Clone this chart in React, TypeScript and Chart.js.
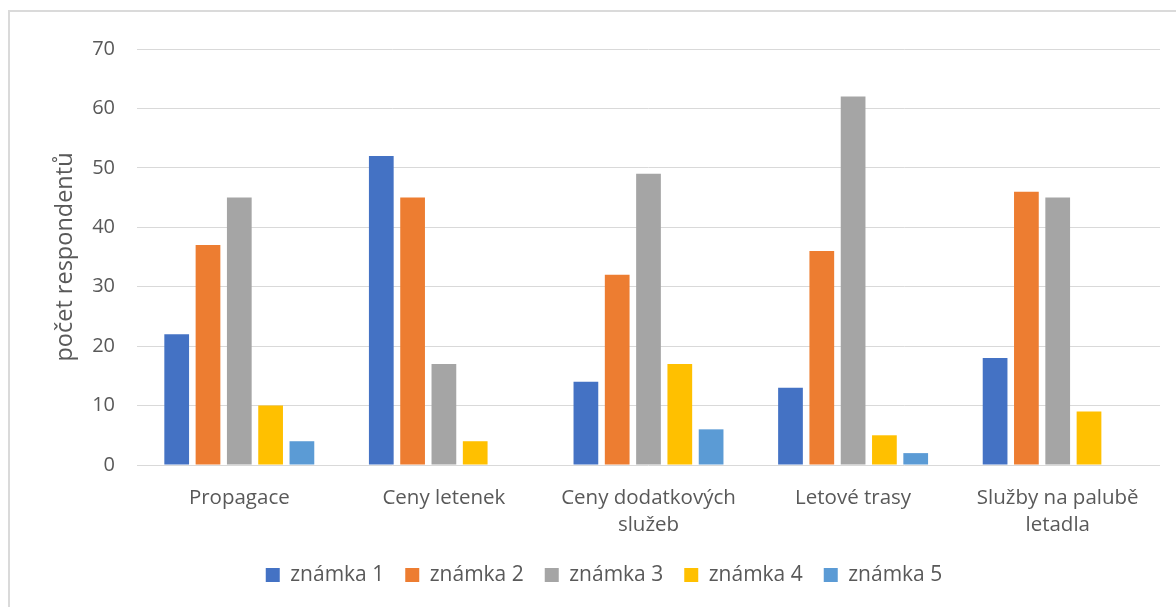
import React, { useEffect, useRef } from "react";
import { Chart, registerables } from "chart.js";

Chart.register(...registerables);

const categories: (string | string[])[] = [
  "Propagace",
  "Ceny letenek",
  ["Ceny dodatkových", "služeb"],
  "Letové trasy",
  ["Služby na palubě", "letadla"],
];

const seriesNames = ["známka 1", "známka 2", "známka 3", "známka 4", "známka 5"];
const znamka1 = [22, 52, 14, 13, 18];
const znamka2 = [37, 45, 32, 36, 46];
const znamka3 = [45, 17, 49, 62, 45];
const znamka4 = [10, 4, 17, 5, 9];
const znamka5 = [4, 0, 6, 2, 0];
const seriesColors = ["#4472C4", "#ED7D31", "#A5A5A5", "#FFC000", "#5B9BD5"];

const yMin = 0;
const yMax = 70;
const yStep = 10;
const yTitle = "počet respondentů";

const FONT = "'Open Sans', sans-serif";
const TEXT_COLOR = "#595959";
const GRID_COLOR = "#D9D9D9";

export default function App() {
  const canvasRef = useRef<HTMLCanvasElement | null>(null);

  useEffect(() => {
    if (!canvasRef.current) return;
    const values = [znamka1, znamka2, znamka3, znamka4, znamka5];
    const chart = new Chart(canvasRef.current, {
      type: "bar",
      data: {
        labels: categories,
        datasets: seriesNames.map((name, i) => ({
          label: name,
          data: values[i],
          backgroundColor: seriesColors[i],
          borderWidth: 0,
          categoryPercentage: 0.765,
          barPercentage: 0.79,
        })),
      },
      options: {
        animation: false,
        responsive: true,
        maintainAspectRatio: false,
        layout: { padding: { top: 37, right: 16, bottom: 11.5, left: 38 } },
        plugins: {
          tooltip: { enabled: false },
          title: { display: false },
          legend: {
            display: true,
            position: "bottom",
            labels: {
              boxWidth: 14,
              boxHeight: 14,
              padding: 21,
              color: TEXT_COLOR,
              font: { family: FONT, size: 21 },
            },
          },
        },
        scales: {
          x: {
            grid: { display: false, drawTicks: false },
            border: { display: false },
            ticks: {
              color: TEXT_COLOR,
              padding: 20,
              maxRotation: 0,
              autoSkip: false,
              font: { family: FONT, size: 20.5, lineHeight: 1.317 },
            },
            afterFit: (scale: any) => {
              scale.height = 78.5;
            },
          },
          y: {
            min: yMin,
            max: yMax,
            grid: { color: GRID_COLOR, lineWidth: 1, drawTicks: false },
            border: { display: false },
            ticks: {
              stepSize: yStep,
              color: TEXT_COLOR,
              padding: 22,
              font: { family: FONT, size: 20 },
            },
            title: {
              display: true,
              text: yTitle,
              color: TEXT_COLOR,
              padding: { top: 3, bottom: 0 },
              font: { family: FONT, size: 23.5, lineHeight: 1.2 },
            },
            afterFit: (scale: any) => {
              scale.width = 89;
            },
          },
        },
      },
    });
    return () => chart.destroy();
  }, []);

  return (
    <div
      style={{
        position: "absolute",
        left: 8,
        top: 10,
        width: 1168,
        height: 597,
        boxSizing: "border-box",
        borderTop: "2px solid #DADADA",
        borderLeft: "2px solid #DADADA",
        background: "#FFFFFF",
      }}
    >
      <div style={{ position: "relative", width: 1166, height: 595 }}>
        <canvas ref={canvasRef} />
      </div>
    </div>
  );
}
